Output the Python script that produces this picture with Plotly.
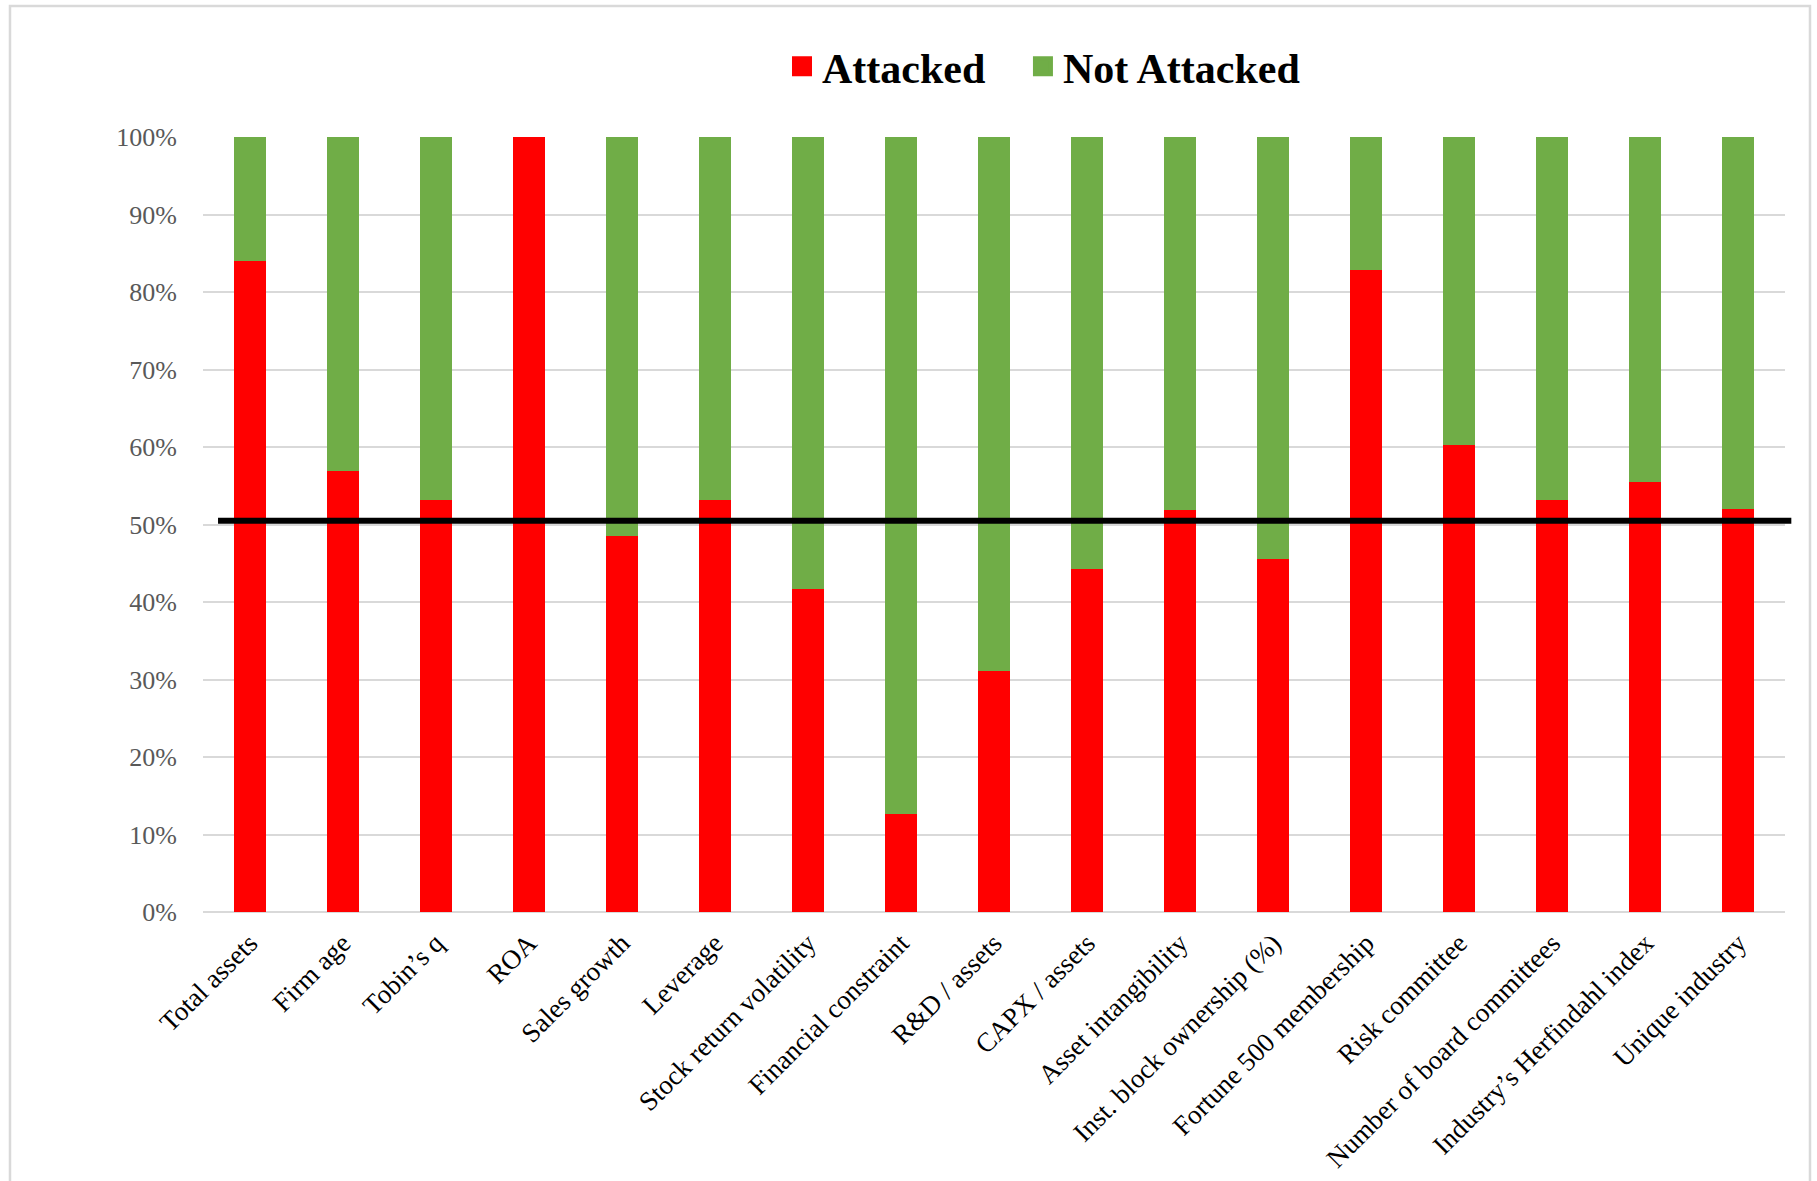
import plotly.graph_objects as go

categories = [
    "Total assets", "Firm age", "Tobin\u2019s q", "ROA", "Sales growth", "Leverage",
    "Stock return volatility", "Financial constraint", "R&D / assets", "CAPX / assets",
    "Asset intangibility", "Inst. block ownership (%)", "Fortune 500 membership",
    "Risk committee", "Number of board committees", "Industry\u2019s Herfindahl index",
    "Unique industry",
]
attacked = [84.0, 56.9, 53.2, 100.0, 48.5, 53.1, 41.7, 12.6, 31.1, 44.2,
            51.9, 45.6, 82.8, 60.2, 53.1, 55.5, 52.0]
not_attacked = [100.0 - a for a in attacked]
reference_level = 50.5

RED = "#FF0000"
GREEN = "#70AD47"
SERIF = "Liberation Serif, Times New Roman, serif"

fig = go.Figure()
fig.add_trace(go.Bar(x=categories, y=[a / 100 for a in attacked], name="Attacked",
                     marker=dict(color=RED, line=dict(width=0)), showlegend=False))
fig.add_trace(go.Bar(x=categories, y=[n / 100 for n in not_attacked], name="Not Attacked",
                     marker=dict(color=GREEN, line=dict(width=0)), showlegend=False))
# legend entries
fig.add_trace(go.Scatter(x=[None], y=[None], mode="markers", name="Attacked",
                         legend="legend",
                         marker=dict(symbol="square", size=16, color=RED,
                                     line=dict(color=RED, width=4))))
fig.add_trace(go.Scatter(x=[None], y=[None], mode="markers", name="Not Attacked",
                         legend="legend2",
                         marker=dict(symbol="square", size=16, color=GREEN,
                                     line=dict(color=GREEN, width=4))))

fig.add_shape(type="line", xref="paper", yref="y", x0=0.0095, x1=1.004,
              y0=reference_level / 100, y1=reference_level / 100,
              line=dict(color="black", width=6))
# outer frame
fig.add_shape(type="rect", xref="paper", yref="paper", x0=-0.122, x1=1.0158,
              y0=-0.36, y1=1.169, line=dict(color="#D9D9D9", width=2.5),
              fillcolor="rgba(0,0,0,0)", layer="below")

legend_font = dict(family=SERIF, size=42, color="black", weight="bold")
fig.update_layout(
    width=1817, height=1181,
    barmode="stack", bargap=0.656,
    plot_bgcolor="white", paper_bgcolor="white",
    margin=dict(l=203, r=32, t=137, b=269, autoexpand=False),
    font=dict(family=SERIF, color="black"),
    legend=dict(orientation="h", x=0.366, xanchor="left", y=1.091, yanchor="middle",
                font=legend_font, itemsizing="trace", bgcolor="rgba(0,0,0,0)"),
    legend2=dict(orientation="h", x=0.5183, xanchor="left", y=1.091, yanchor="middle",
                 font=legend_font, itemsizing="trace", bgcolor="rgba(0,0,0,0)"),
    xaxis=dict(tickangle=-45, tickfont=dict(family=SERIF, size=27, color="black"),
               showgrid=False, showline=False, ticks="", automargin=False,
               ticklabelstandoff=9),
    yaxis=dict(range=[0, 1], dtick=0.1, tickformat=".0%",
               tickfont=dict(family=SERIF, size=26, color="#595959"),
               gridcolor="#D9D9D9", gridwidth=2, zeroline=True, zerolinecolor="#D9D9D9",
               zerolinewidth=2, showline=False, ticks="", ticklabelstandoff=25,
               automargin=False),
)

fig.write_html("out.html")
